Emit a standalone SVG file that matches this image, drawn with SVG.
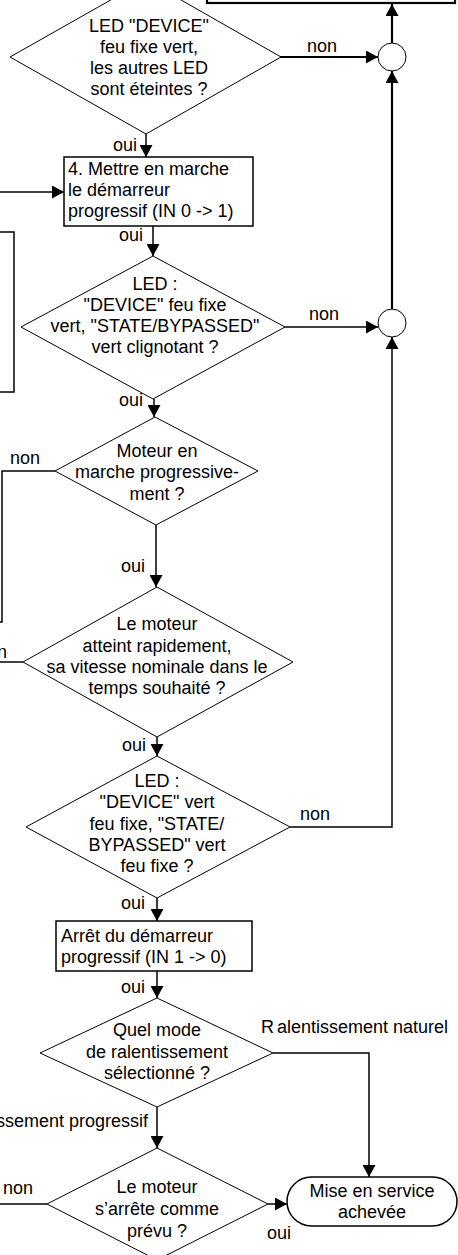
<svg xmlns="http://www.w3.org/2000/svg" width="458" height="1255" viewBox="0 0 458 1255">
<defs>
<marker id="ah" markerUnits="userSpaceOnUse" markerWidth="13" markerHeight="13" refX="12" refY="6.5" orient="auto">
<path d="M0,0 L12,6.5 L0,13 z" fill="#000"/>
</marker>
<style>
text{font-family:"Liberation Sans",Arial,sans-serif;font-size:18px;fill:#000}
.c{text-anchor:middle}
.e{text-anchor:end}
.d{fill:#fff;stroke:#000;stroke-width:1}
.b{fill:#fff;stroke:#000;stroke-width:1.5}
.k{fill:none;stroke:#000;stroke-width:1.5}
.t{fill:none;stroke:#000;stroke-width:2.2}
.a{marker-end:url(#ah)}
</style>
</defs>
<rect width="458" height="1255" fill="#fff"/>

<g id="connectors">
<line class="t a" x1="280" y1="57" x2="378" y2="57"/>
<line class="t a" x1="392" y1="43" x2="392" y2="4"/>
<line class="t a" x1="392" y1="309" x2="392" y2="71"/>
<line class="k a" x1="285" y1="327" x2="378" y2="327"/>
<polyline class="k a" points="290,827 392,827 392,337"/>
<line class="k a" x1="146" y1="134" x2="146" y2="157"/>
<line class="k a" x1="0" y1="192" x2="64" y2="192"/>
<line class="k a" x1="153" y1="226" x2="153" y2="256"/>
<line class="k a" x1="154" y1="399" x2="154" y2="417"/>
<line class="k a" x1="156" y1="525" x2="156" y2="587"/>
<line class="k a" x1="157" y1="737" x2="157" y2="756"/>
<line class="k a" x1="157" y1="898" x2="157" y2="921"/>
<line class="k a" x1="157" y1="971" x2="157" y2="998"/>
<line class="k a" x1="157" y1="1107" x2="157" y2="1148"/>
<line class="k a" x1="268" y1="1204" x2="287" y2="1204"/>
<polyline class="k a" points="273,1053 369,1053 369,1177"/>
<polyline class="k" points="55,471 2,471 2,622 0,622"/>
<line class="k" x1="0" y1="662" x2="23" y2="662"/>
<line class="k" x1="0" y1="1204" x2="47" y2="1204"/>
</g>

<g id="labels">
<text x="307" y="52">non</text>
<text x="309" y="320">non</text>
<text x="300" y="820">non</text>
<text x="10" y="464">non</text>
<text class="e" x="7" y="658">non</text>
<text x="3" y="1194">non</text>
<text class="e" x="137" y="151">oui</text>
<text class="e" x="143" y="241">oui</text>
<text class="e" x="143" y="406">oui</text>
<text class="e" x="145" y="572">oui</text>
<text class="e" x="146" y="751">oui</text>
<text class="e" x="145" y="909">oui</text>
<text class="e" x="145" y="993">oui</text>
<text x="267" y="1239">oui</text>
<text x="261" y="1033">R<tspan dx="3">alentissement naturel</tspan></text>
<text class="e" x="148" y="1127">Ralentissement progressif</text>
</g>

<g id="top-box"><rect class="t" x="207" y="-40" width="248" height="43"/></g>
<g id="left-box"><rect class="b" x="-60" y="232" width="74" height="160"/></g>

<g id="merge1"><circle class="d" cx="392" cy="57" r="14"/></g>
<g id="merge2"><circle class="d" cx="392" cy="323" r="14"/></g>

<g id="q1">
<polygon class="d" points="146,-20 281,57 146,134 10,57"/>
<text class="c" x="149" y="32">LED "DEVICE"</text>
<text class="c" x="149" y="53">feu fixe vert,</text>
<text class="c" x="149" y="74">les autres LED</text>
<text class="c" x="149" y="95">sont éteintes ?</text>
</g>

<g id="step4">
<rect class="b" x="64" y="157" width="189" height="69"/>
<text x="68" y="175">4. Mettre en marche</text>
<text x="68" y="196">le démarreur</text>
<text x="68" y="217">progressif (IN 0 -&gt; 1)</text>
</g>

<g id="q2">
<polygon class="d" points="153,256 285,327 153,399 21,327"/>
<text class="c" x="155" y="290">LED :</text>
<text class="c" x="155" y="311">"DEVICE" feu fixe</text>
<text class="c" x="155" y="332">vert, "STATE/BYPASSED"</text>
<text class="c" x="155" y="353">vert clignotant ?</text>
</g>

<g id="q3">
<polygon class="d" points="155,417 258,471 156,525 55,471"/>
<text class="c" x="157" y="457">Moteur en</text>
<text class="c" x="157" y="478">marche progressive-</text>
<text class="c" x="157" y="500">ment ?</text>
</g>

<g id="q4">
<polygon class="d" points="157,587 293,662 157,737 23,662"/>
<text class="c" x="157" y="630">Le moteur</text>
<text class="c" x="157" y="652">atteint rapidement,</text>
<text class="c" x="157" y="673">sa vitesse nominale dans le</text>
<text class="c" x="157" y="694">temps souhaité ?</text>
</g>

<g id="q5">
<polygon class="d" points="157,756 290,827 157,898 26,827"/>
<text class="c" x="157" y="787">LED :</text>
<text class="c" x="157" y="808">"DEVICE" vert</text>
<text class="c" x="157" y="830">feu fixe, "STATE/</text>
<text class="c" x="157" y="851">BYPASSED" vert</text>
<text class="c" x="157" y="872">feu fixe ?</text>
</g>

<g id="stop">
<rect class="b" x="56" y="921" width="196" height="50"/>
<text x="61" y="942">Arrêt du démarreur</text>
<text x="61" y="963">progressif (IN 1 -&gt; 0)</text>
</g>

<g id="q6">
<polygon class="d" points="157,998 273,1053 157,1107 40,1053"/>
<text class="c" x="157" y="1036">Quel mode</text>
<text class="c" x="157" y="1058">de ralentissement</text>
<text class="c" x="157" y="1079">sélectionné ?</text>
</g>

<g id="q7">
<polygon class="d" points="157,1148 268,1204 157,1260 47,1204"/>
<text class="c" x="157" y="1193">Le moteur</text>
<text class="c" x="157" y="1215">s’arrête comme</text>
<text class="c" x="157" y="1237">prévu ?</text>
</g>

<g id="done">
<rect class="b" x="287" y="1177" width="170" height="49" rx="24.5" ry="24.5"/>
<text class="c" x="372" y="1197">Mise en service</text>
<text class="c" x="372" y="1218">achevée</text>
</g>
</svg>
